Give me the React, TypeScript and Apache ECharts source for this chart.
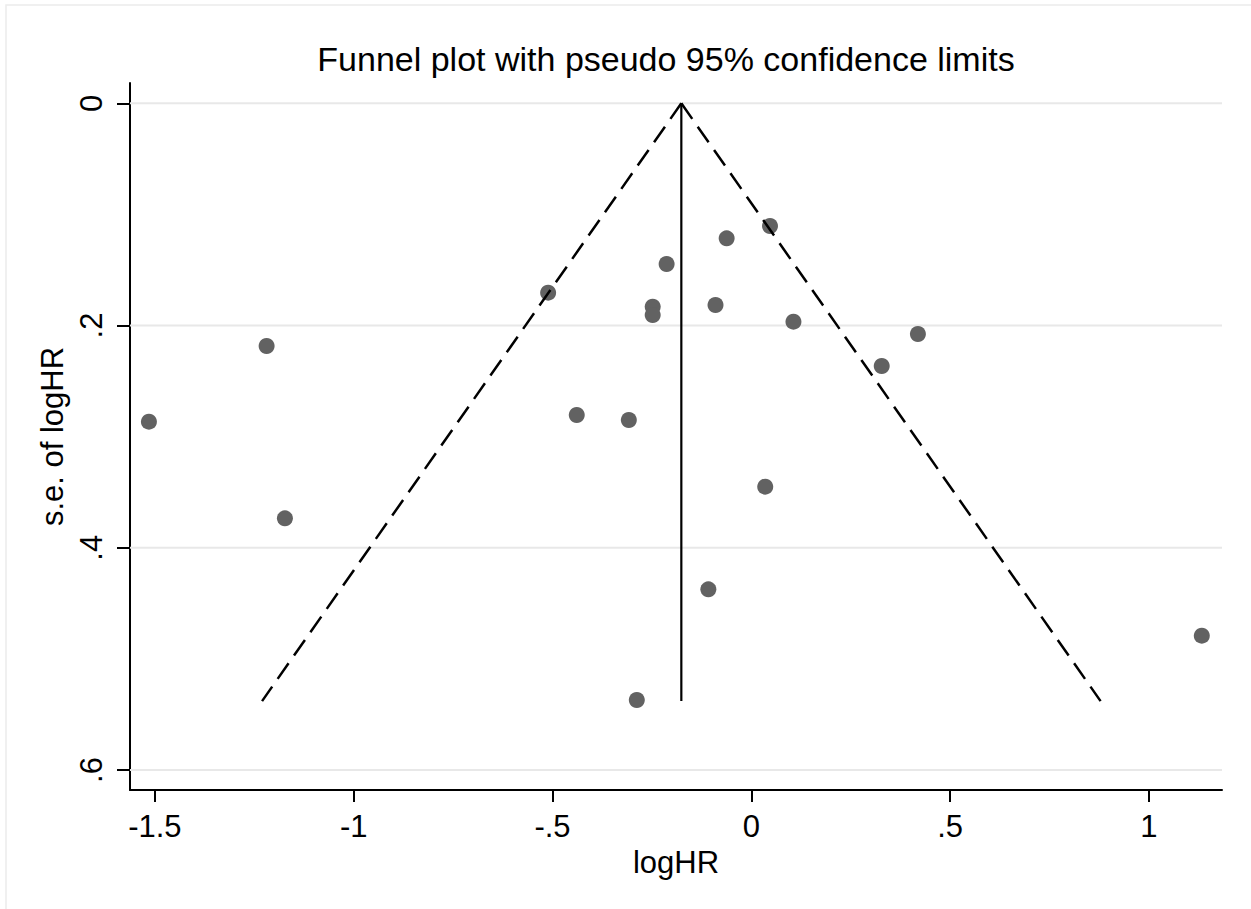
import React, { useEffect, useRef } from "react";
import * as echarts from "echarts";

// Study estimates (log hazard ratio) and their standard errors
const logHR = [
  -1.515, -1.219, -1.173, -0.511, -0.439, -0.308, -0.288, -0.248, -0.248, -0.213,
  -0.108, -0.09, -0.062, 0.035, 0.047, 0.106, 0.328, 0.419, 1.133,
];
const seLogHR = [
  0.2865, 0.2184, 0.3735, 0.1704, 0.2805, 0.285, 0.537, 0.183, 0.1905, 0.1446,
  0.4374, 0.1815, 0.1215, 0.345, 0.1104, 0.1965, 0.2364, 0.2076, 0.4791,
];

// Pooled estimate and funnel limits
const pooledLogHR = -0.176;
const seMax = 0.538;
const z95 = 1.96;

// Axis ticks
const xTicks = [-1.5, -1, -0.5, 0, 0.5, 1];
const xTickLabels = ["-1.5", "-1", "-.5", "0", ".5", "1"];
const yTicks = [0, 0.2, 0.4, 0.6];
const yTickLabels = ["0", ".2", ".4", ".6"];
const xRange = [-1.5626, 1.1838];
const yRange = [-0.0183, 0.618];

const titleText = "Funnel plot with pseudo 95% confidence limits";
const xName = "logHR";
const yName = "s.e. of logHR";

const FONT = "'Liberation Sans', Arial, Helvetica, sans-serif";

function labelFor(ticks: number[], labels: string[], v: number): string {
  for (let i = 0; i < ticks.length; i++) {
    if (Math.abs(ticks[i] - v) < 1e-9) return labels[i];
  }
  return "";
}

export default function App() {
  const ref = useRef<HTMLDivElement>(null);

  useEffect(() => {
    document.body.style.margin = "0";
    if (!ref.current) return;
    const chart = echarts.init(ref.current, undefined, { renderer: "svg" });

    const gridSeries = yTicks.map((v) => ({
      type: "line",
      data: [
        [xRange[0], v],
        [xRange[1], v],
      ],
      symbol: "none",
      silent: true,
      z: 1,
      lineStyle: { color: "#e8e8e8", width: 2 },
    }));

    const scatterData = logHR.map((x, i) => [x, seLogHR[i]]);

    const option: any = {
      animation: false,
      backgroundColor: "#ffffff",
      graphic: [
        {
          type: "rect",
          shape: { x: 6, y: 5, width: 1400, height: 1100 },
          style: { fill: "none", stroke: "#ececec", lineWidth: 1.5 },
          silent: true,
          z: 0,
        },
        {
          type: "text",
          x: 666,
          y: 59,
          style: {
            text: titleText,
            fill: "#000",
            font: `34px ${FONT}`,
            textAlign: "center",
            textVerticalAlign: "middle",
          },
        },
      ],
      grid: {
        left: 130,
        right: 29,
        top: 83,
        bottom: 119,
        containLabel: false,
        outerBoundsMode: "none",
      },
      xAxis: {
        type: "value",
        min: xRange[0],
        max: xRange[1],
        name: xName,
        nameLocation: "middle",
        nameGap: 51,
        nameTextStyle: { color: "#000", fontSize: 31, fontFamily: FONT },
        axisLine: { show: true, onZero: false, lineStyle: { color: "#000", width: 2 } },
        axisTick: {
          show: true,
          length: 12,
          lineStyle: { color: "#000", width: 2 },
          customValues: xTicks,
        },
        axisLabel: {
          show: true,
          margin: 21,
          color: "#000",
          fontSize: 31,
          fontFamily: FONT,
          customValues: xTicks,
          formatter: (v: number) => labelFor(xTicks, xTickLabels, v),
        },
        splitLine: { show: false },
      },
      yAxis: {
        type: "value",
        inverse: true,
        min: yRange[0],
        max: yRange[1],
        name: yName,
        nameLocation: "middle",
        nameGap: 55,
        nameRotate: 90,
        nameTextStyle: { color: "#000", fontSize: 31, fontFamily: FONT },
        axisLine: { show: true, onZero: false, lineStyle: { color: "#000", width: 2 } },
        axisTick: {
          show: true,
          length: 13,
          lineStyle: { color: "#000", width: 2 },
          customValues: yTicks,
        },
        axisLabel: {
          show: true,
          rotate: 90,
          margin: 23,
          color: "#000",
          fontSize: 31,
          fontFamily: FONT,
          customValues: yTicks,
          formatter: (v: number) => labelFor(yTicks, yTickLabels, v),
        },
        splitLine: { show: false },
      },
      series: [
        ...gridSeries,
        {
          type: "scatter",
          data: scatterData,
          symbol: "circle",
          symbolSize: 16,
          z: 2,
          itemStyle: { color: "#626262", opacity: 1 },
        },
        {
          type: "line",
          data: [
            [pooledLogHR, 0],
            [pooledLogHR - z95 * seMax, seMax],
          ],
          symbol: "none",
          z: 3,
          lineStyle: { color: "#000", width: 2.5, type: [19, 9.5] },
        },
        {
          type: "line",
          data: [
            [pooledLogHR, 0],
            [pooledLogHR + z95 * seMax, seMax],
          ],
          symbol: "none",
          z: 3,
          lineStyle: { color: "#000", width: 2.5, type: [19, 9.5] },
        },
        {
          type: "line",
          data: [
            [pooledLogHR, 0],
            [pooledLogHR, seMax],
          ],
          symbol: "none",
          z: 3,
          lineStyle: { color: "#000", width: 2.2 },
        },
      ],
    };

    chart.setOption(option);
    return () => {
      chart.dispose();
    };
  }, []);

  return <div ref={ref} style={{ width: "1251px", height: "909px" }} />;
}
